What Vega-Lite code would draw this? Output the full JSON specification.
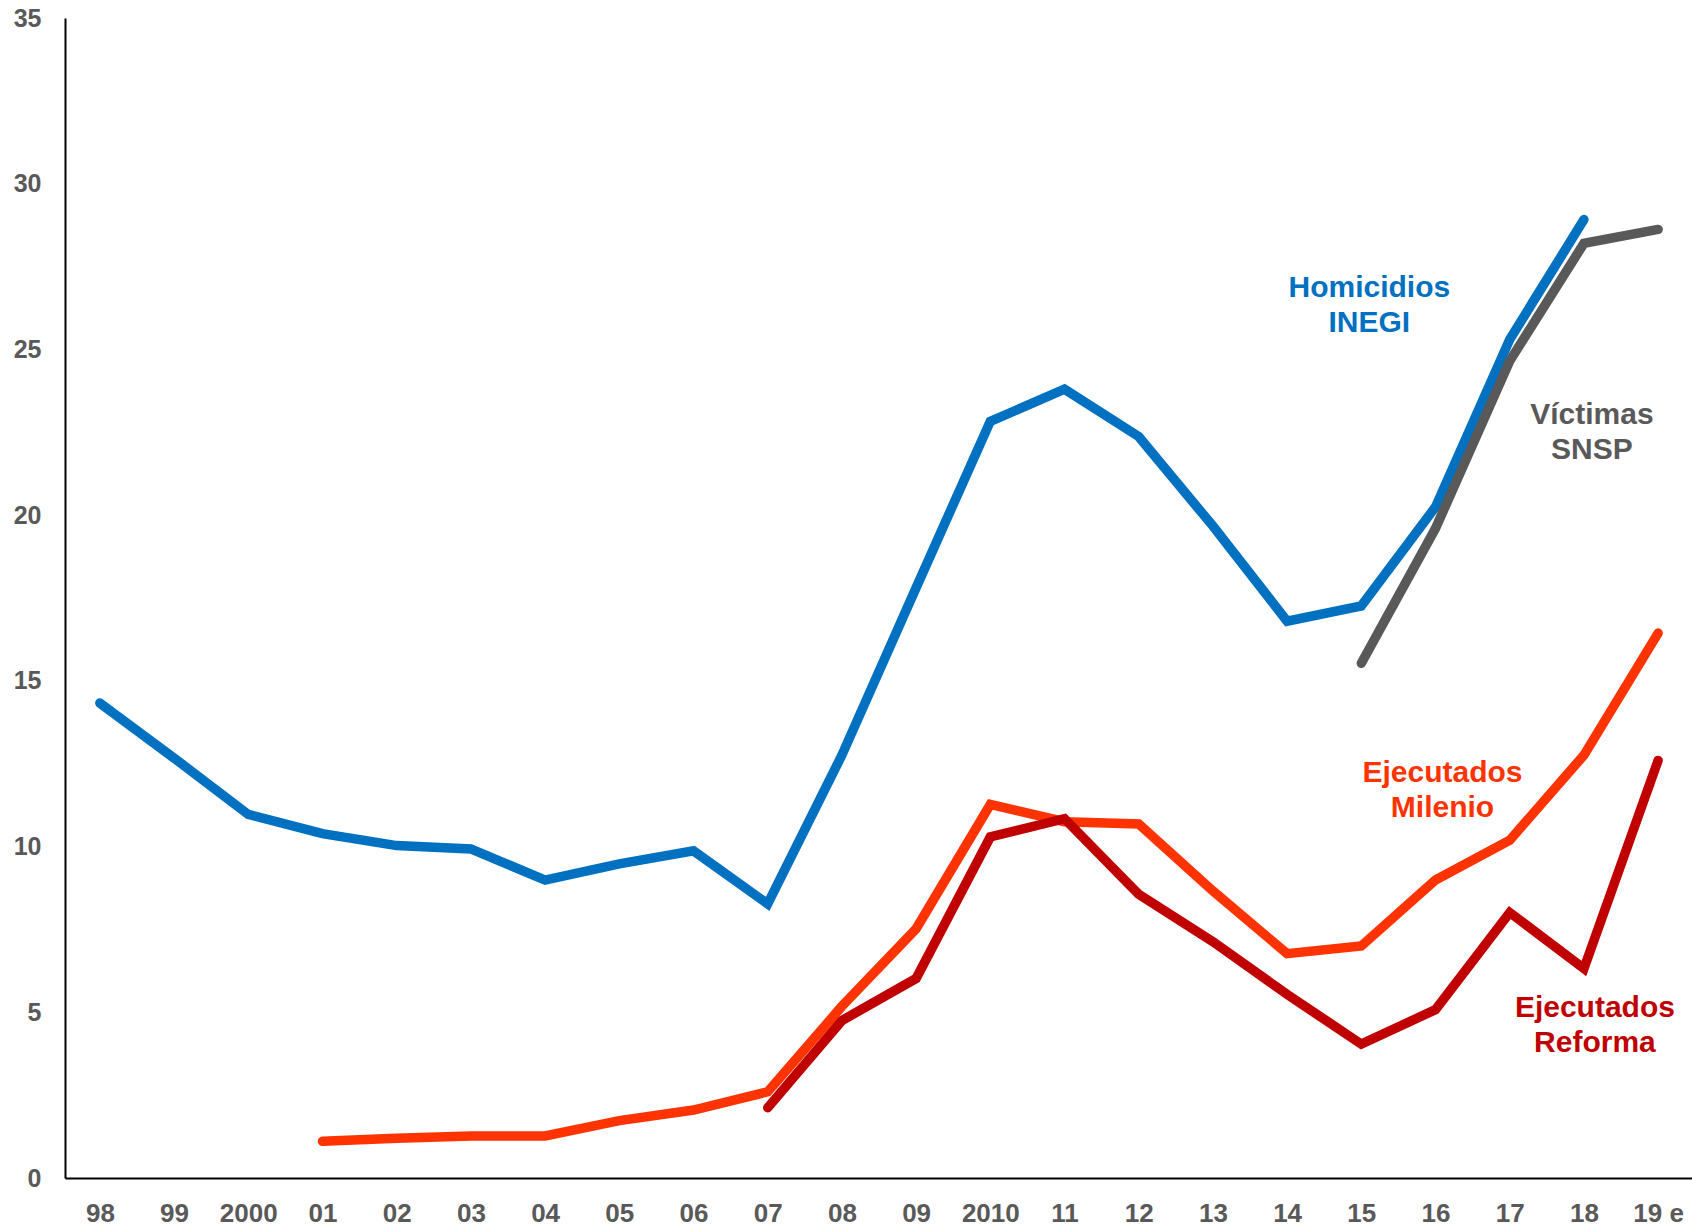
{
  "$schema": "https://vega.github.io/schema/vega-lite/v6.json",
  "autosize": "none",
  "width": 1628,
  "height": 1160,
  "padding": {"left": 65, "top": 18, "right": 0, "bottom": 48},
  "background": "white",
  "config": {"view": {"stroke": null}},
  "datasets": {
    "series": [
      {"serie": "Homicidios INEGI", "anio": "98", "valor": 14.33},
      {"serie": "Homicidios INEGI", "anio": "99", "valor": 12.67},
      {"serie": "Homicidios INEGI", "anio": "2000", "valor": 10.97},
      {"serie": "Homicidios INEGI", "anio": "01", "valor": 10.39},
      {"serie": "Homicidios INEGI", "anio": "02", "valor": 10.03},
      {"serie": "Homicidios INEGI", "anio": "03", "valor": 9.93},
      {"serie": "Homicidios INEGI", "anio": "04", "valor": 8.99},
      {"serie": "Homicidios INEGI", "anio": "05", "valor": 9.48},
      {"serie": "Homicidios INEGI", "anio": "06", "valor": 9.87},
      {"serie": "Homicidios INEGI", "anio": "07", "valor": 8.27},
      {"serie": "Homicidios INEGI", "anio": "08", "valor": 12.76},
      {"serie": "Homicidios INEGI", "anio": "09", "valor": 17.81},
      {"serie": "Homicidios INEGI", "anio": "2010", "valor": 22.83},
      {"serie": "Homicidios INEGI", "anio": "11", "valor": 23.8},
      {"serie": "Homicidios INEGI", "anio": "12", "valor": 22.37},
      {"serie": "Homicidios INEGI", "anio": "13", "valor": 19.67},
      {"serie": "Homicidios INEGI", "anio": "14", "valor": 16.8},
      {"serie": "Homicidios INEGI", "anio": "15", "valor": 17.26},
      {"serie": "Homicidios INEGI", "anio": "16", "valor": 20.25},
      {"serie": "Homicidios INEGI", "anio": "17", "valor": 25.3},
      {"serie": "Homicidios INEGI", "anio": "18", "valor": 28.92},
      {"serie": "Víctimas SNSP", "anio": "15", "valor": 15.53},
      {"serie": "Víctimas SNSP", "anio": "16", "valor": 19.6},
      {"serie": "Víctimas SNSP", "anio": "17", "valor": 24.65},
      {"serie": "Víctimas SNSP", "anio": "18", "valor": 28.2},
      {"serie": "Víctimas SNSP", "anio": "19 e", "valor": 28.62},
      {"serie": "Ejecutados Milenio", "anio": "01", "valor": 1.11},
      {"serie": "Ejecutados Milenio", "anio": "02", "valor": 1.2},
      {"serie": "Ejecutados Milenio", "anio": "03", "valor": 1.27},
      {"serie": "Ejecutados Milenio", "anio": "04", "valor": 1.27},
      {"serie": "Ejecutados Milenio", "anio": "05", "valor": 1.73},
      {"serie": "Ejecutados Milenio", "anio": "06", "valor": 2.05},
      {"serie": "Ejecutados Milenio", "anio": "07", "valor": 2.6},
      {"serie": "Ejecutados Milenio", "anio": "08", "valor": 5.18},
      {"serie": "Ejecutados Milenio", "anio": "09", "valor": 7.52},
      {"serie": "Ejecutados Milenio", "anio": "2010", "valor": 11.27},
      {"serie": "Ejecutados Milenio", "anio": "11", "valor": 10.75},
      {"serie": "Ejecutados Milenio", "anio": "12", "valor": 10.68},
      {"serie": "Ejecutados Milenio", "anio": "13", "valor": 8.66},
      {"serie": "Ejecutados Milenio", "anio": "14", "valor": 6.77},
      {"serie": "Ejecutados Milenio", "anio": "15", "valor": 7.0},
      {"serie": "Ejecutados Milenio", "anio": "16", "valor": 8.99},
      {"serie": "Ejecutados Milenio", "anio": "17", "valor": 10.19},
      {"serie": "Ejecutados Milenio", "anio": "18", "valor": 12.76},
      {"serie": "Ejecutados Milenio", "anio": "19 e", "valor": 16.44},
      {"serie": "Ejecutados Reforma", "anio": "07", "valor": 2.12},
      {"serie": "Ejecutados Reforma", "anio": "08", "valor": 4.75},
      {"serie": "Ejecutados Reforma", "anio": "09", "valor": 6.02},
      {"serie": "Ejecutados Reforma", "anio": "2010", "valor": 10.29},
      {"serie": "Ejecutados Reforma", "anio": "11", "valor": 10.84},
      {"serie": "Ejecutados Reforma", "anio": "12", "valor": 8.56},
      {"serie": "Ejecutados Reforma", "anio": "13", "valor": 7.13},
      {"serie": "Ejecutados Reforma", "anio": "14", "valor": 5.54},
      {"serie": "Ejecutados Reforma", "anio": "15", "valor": 4.04},
      {"serie": "Ejecutados Reforma", "anio": "16", "valor": 5.08},
      {"serie": "Ejecutados Reforma", "anio": "17", "valor": 8.01},
      {"serie": "Ejecutados Reforma", "anio": "18", "valor": 6.32},
      {"serie": "Ejecutados Reforma", "anio": "19 e", "valor": 12.6}
    ],
    "etiquetas": [
      {"serie": "Homicidios INEGI", "texto": "Homicidios\nINEGI", "anio": "15", "valor": 26.85, "dx": 8},
      {"serie": "Víctimas SNSP", "texto": "Víctimas\nSNSP", "anio": "18", "valor": 23.02, "dx": 8},
      {"serie": "Ejecutados Milenio", "texto": "Ejecutados\nMilenio", "anio": "16", "valor": 12.23, "dx": 7},
      {"serie": "Ejecutados Reforma", "texto": "Ejecutados\nReforma", "anio": "18", "valor": 5.13, "dx": 11}
    ]
  },
  "encoding": {
    "x": {
      "field": "anio", "type": "ordinal",
      "scale": {"type": "point", "padding": 0.47, "domain": ["98","99","2000","01","02","03","04","05","06","07","08","09","2010","11","12","13","14","15","16","17","18","19 e"]},
      "axis": {
        "title": null, "ticks": false, "domain": true, "domainColor": "#000000", "domainWidth": 2,
        "labelFont": "Liberation Sans", "labelFontWeight": "bold", "labelFontSize": 26,
        "labelColor": "#595959", "labelPadding": 22, "labelAngle": 0, "labelOverlap": false, "grid": false
      }
    },
    "y": {
      "field": "valor", "type": "quantitative",
      "scale": {"domain": [0, 35], "nice": false},
      "axis": {
        "title": null, "ticks": false, "domain": true, "domainColor": "#000000", "domainWidth": 2,
        "values": [0,5,10,15,20,25,30,35], "grid": false,
        "labelFont": "Liberation Sans", "labelFontWeight": "bold", "labelFontSize": 25,
        "labelColor": "#595959", "labelPadding": 24
      }
    },
    "color": {
      "field": "serie", "type": "nominal", "legend": null,
      "scale": {
        "domain": ["Víctimas SNSP", "Ejecutados Milenio", "Ejecutados Reforma", "Homicidios INEGI"],
        "range": ["#595959", "#FF3300", "#C00000", "#0070C0"]
      }
    }
  },
  "layer": [
    {
      "data": {"name": "series"},
      "mark": {"type": "line", "strokeWidth": 9.5, "strokeCap": "round", "strokeJoin": "miter"}
    },
    {
      "data": {"name": "etiquetas"},
      "mark": {"type": "text", "font": "Liberation Sans", "fontWeight": "bold", "fontSize": 30, "lineHeight": 35, "lineBreak": "\n", "align": "center", "baseline": "middle"},
      "encoding": {
        "text": {"field": "texto"},
        "xOffset": {"field": "dx", "type": "quantitative", "scale": null}
      }
    }
  ]
}
